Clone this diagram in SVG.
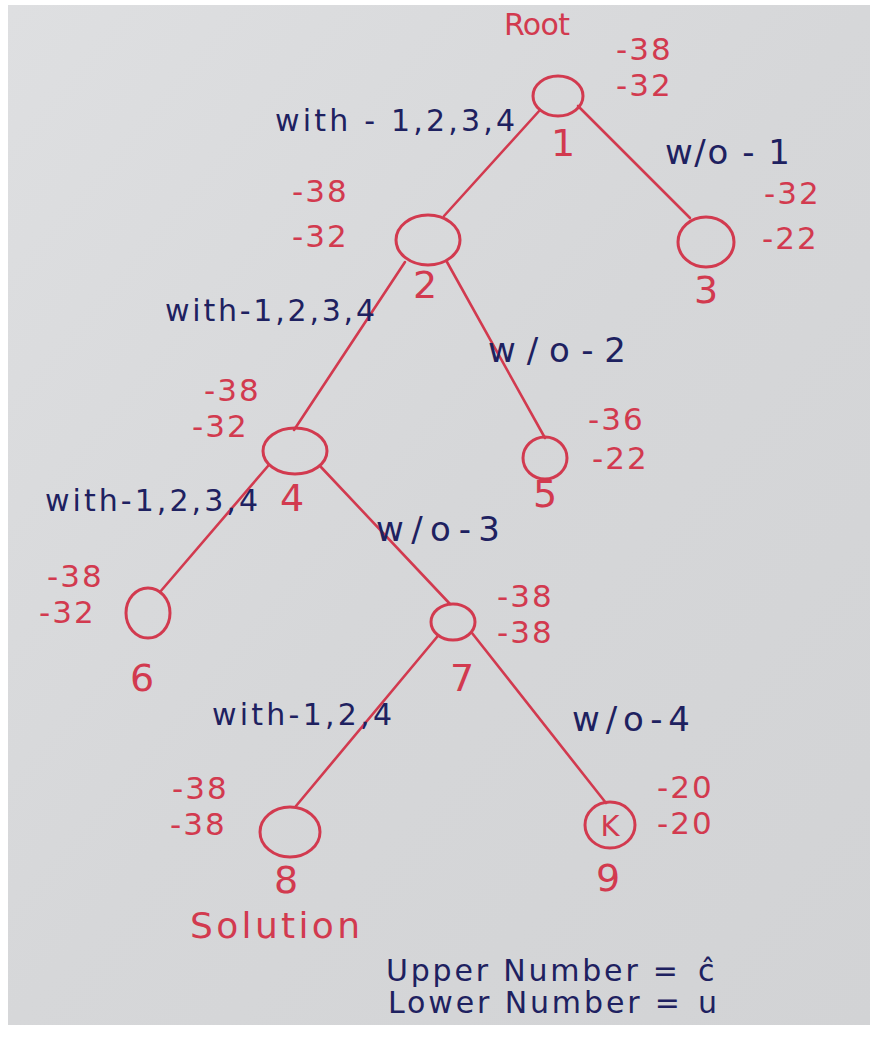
<svg xmlns="http://www.w3.org/2000/svg" width="881" height="1049" viewBox="0 0 881 1049">
<defs>
<linearGradient id="paper" x1="0" y1="0" x2="1" y2="1">
<stop offset="0" stop-color="#dedfe1"/>
<stop offset="0.5" stop-color="#d6d7d9"/>
<stop offset="1" stop-color="#d2d3d5"/>
</linearGradient>
<style>
.ink{fill:none;stroke:#d23a4f;stroke-width:2.6;stroke-linecap:round}
.node{fill:none;stroke:#d23a4f;stroke-width:3}
.v{font-family:"DejaVu Sans",sans-serif;font-size:31px;fill:#d23a4f;letter-spacing:2px}
.n{font-family:"DejaVu Sans",sans-serif;font-size:38px;fill:#d23a4f;text-anchor:middle}
.r{font-family:"DejaVu Sans",sans-serif;font-size:30px;fill:#d23a4f}
.e{font-family:"DejaVu Sans",sans-serif;font-size:30px;fill:#1e2160}
.w{font-size:34px}
</style>
</defs>
<rect width="881" height="1049" fill="#ffffff"/>
<rect x="8" y="5" width="862" height="1020" fill="url(#paper)"/>
<g id="connectors">
<line class="ink" x1="540" y1="110" x2="444" y2="216"/>
<line class="ink" x1="578" y1="106" x2="690" y2="218"/>
<line class="ink" x1="405" y1="262" x2="294" y2="430"/>
<line class="ink" x1="447" y1="262" x2="545" y2="438"/>
<line class="ink" x1="268" y1="466" x2="160" y2="592"/>
<line class="ink" x1="320" y1="466" x2="450" y2="604"/>
<line class="ink" x1="437" y1="637" x2="296" y2="806"/>
<line class="ink" x1="472" y1="633" x2="606" y2="803"/>
</g>
<g id="node1">
<ellipse class="node" cx="558" cy="96" rx="25" ry="20"/>
<text class="r" x="504" y="35" textLength="66">Root</text>
<text class="v" x="616" y="60">-38</text>
<text class="v" x="616" y="96">-32</text>
<text class="n" x="563" y="156">1</text>
</g>
<g id="node2">
<ellipse class="node" cx="428" cy="240" rx="32" ry="25"/>
<text class="v" x="292" y="202">-38</text>
<text class="v" x="292" y="247">-32</text>
<text class="n" x="425" y="298">2</text>
</g>
<g id="node3">
<ellipse class="node" cx="706" cy="242" rx="28" ry="25"/>
<text class="v" x="764" y="204">-32</text>
<text class="v" x="762" y="249">-22</text>
<text class="n" x="706" y="303">3</text>
</g>
<g id="node4">
<ellipse class="node" cx="295" cy="451" rx="32" ry="23"/>
<text class="v" x="204" y="401">-38</text>
<text class="v" x="192" y="437">-32</text>
<text class="n" x="292" y="511">4</text>
</g>
<g id="node5">
<ellipse class="node" cx="545" cy="458" rx="22" ry="21"/>
<text class="v" x="588" y="430">-36</text>
<text class="v" x="592" y="469">-22</text>
<text class="n" x="545" y="507">5</text>
</g>
<g id="node6">
<ellipse class="node" cx="148" cy="613" rx="22" ry="25"/>
<text class="v" x="47" y="587">-38</text>
<text class="v" x="39" y="623">-32</text>
<text class="n" x="142" y="691">6</text>
</g>
<g id="node7">
<ellipse class="node" cx="453" cy="622" rx="22" ry="18"/>
<text class="v" x="497" y="607">-38</text>
<text class="v" x="497" y="643">-38</text>
<text class="n" x="462" y="691">7</text>
</g>
<g id="node8">
<ellipse class="node" cx="290" cy="832" rx="30" ry="25"/>
<text class="v" x="172" y="799">-38</text>
<text class="v" x="170" y="835">-38</text>
<text class="n" x="286" y="893">8</text>
<text class="r" x="190" y="938" style="font-size:36px" textLength="170">Solution</text>
</g>
<g id="node9">
<ellipse class="node" cx="610" cy="825" rx="25" ry="23"/>
<text class="r" x="610" y="836" text-anchor="middle" style="font-size:29px">K</text>
<text class="v" x="657" y="798">-20</text>
<text class="v" x="657" y="834">-20</text>
<text class="n" x="608" y="891">9</text>
</g>
<g id="edge-labels">
<text class="e" x="275" y="131" textLength="240">with - 1,2,3,4</text>
<text class="e w" x="665" y="164" textLength="125">w/o - 1</text>
<text class="e" x="165" y="321" textLength="210">with-1,2,3,4</text>
<text class="e w" x="488" y="362" textLength="138">w/o-2</text>
<text class="e" x="45" y="511" textLength="213">with-1,2,3,4</text>
<text class="e w" x="376" y="541" textLength="124">w/o-3</text>
<text class="e" x="212" y="725" textLength="180">with-1,2,4</text>
<text class="e w" x="572" y="731" textLength="118">w/o-4</text>
</g>
<g id="legend">
<text class="e" x="386" y="981" textLength="292">Upper Number =</text>
<text class="e" x="698" y="981">ĉ</text>
<text class="e" x="388" y="1013" textLength="292">Lower Number =</text>
<text class="e" x="698" y="1013">u</text>
</g>
</svg>
